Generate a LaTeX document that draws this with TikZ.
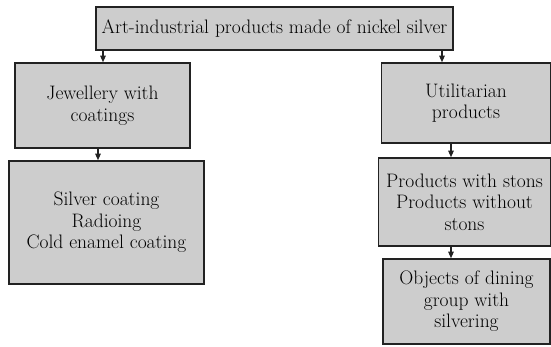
\documentclass[tikz,border=0pt]{standalone}
\usepackage{fontspec}
\usetikzlibrary{arrows.meta}
\definecolor{boxfill}{HTML}{CDCDCD}
\definecolor{boxline}{HTML}{222222}
\begin{document}
\begin{tikzpicture}[x=1pt,y=-1pt,
  box/.style={draw=boxline,fill=boxfill,line width=1.6pt,rectangle,align=center,
    inner sep=0pt,font=\rmfamily\fontsize{19.5}{21.5}\selectfont},
  arr/.style={draw=boxline,line width=1.1pt,-{Triangle[width=5.5pt,length=6.5pt]}}]
\useasboundingbox (0,0) rectangle (551,346);
\node[box,minimum width=357pt,minimum height=43pt] (top) at (274.5,28.5) {Art-industrial products made of nickel silver};
\node[box,minimum width=175pt,minimum height=85pt] (jew) at (102.5,105.5) {Jewellery with\\coatings};
\node[box,minimum width=195pt,minimum height=123pt] (sil) at (106.5,222.5) {Silver coating\\Radioing\\Cold enamel coating};
\node[box,minimum width=169pt,minimum height=80pt] (uti) at (466,103) {Utilitarian\\products};
\node[box,minimum width=172pt,minimum height=88pt] (pro) at (464.5,202) {Products with stons\\Products without\\stons};
\node[box,minimum width=167pt,minimum height=85pt] (obj) at (466.5,301.5) {Objects of dining\\group with\\silvering};
\coordinate (xa) at (103,0);
\coordinate (xb) at (442,0);
\coordinate (xc) at (98,0);
\coordinate (xd) at (451,0);
\draw[arr] (top.south -| xa) -- (jew.north -| xa);
\draw[arr] (top.south -| xb) -- (uti.north -| xb);
\draw[arr] (jew.south -| xc) -- (sil.north -| xc);
\draw[arr] (uti.south -| xd) -- (pro.north -| xd);
\draw[arr] (pro.south -| xd) -- (obj.north -| xd);
\end{tikzpicture}
\end{document}
